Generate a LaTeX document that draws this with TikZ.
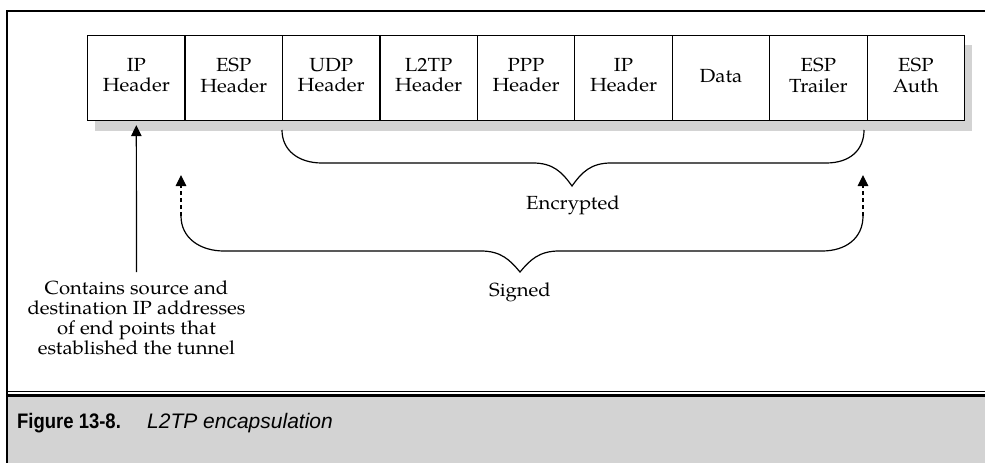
\documentclass[tikz,border=0pt]{standalone}
\usepackage{fontspec}
\setmainfont{TeX Gyre Pagella}[FakeStretch=1.07]
\newfontfamily\capfont{Liberation Sans}
\newfontfamily\capboldfont{Liberation Sans Bold}[FakeStretch=0.88]
\usetikzlibrary{arrows.meta,calc}
\definecolor{panelgray}{RGB}{211,211,211}
\begin{document}
\begin{tikzpicture}[x=1pt,y=-1pt,
  pkt/.style={draw=black,line width=1.2pt,fill=white,minimum width=97.44pt,minimum height=85pt,inner sep=0pt,anchor=north west},
  ptxt/.style={font=\fontsize{19pt}{20.8pt}\selectfont,align=center,inner sep=0pt},
  lbl/.style={font=\fontsize{19pt}{19.8pt}\selectfont,align=center,inner sep=0pt},
  conn/.style={line width=1.2pt},
  tip/.style={-{Triangle[width=10.5pt,length=11pt]}},
  dsh/.style={line width=1.2pt,dash pattern=on 4pt off 3pt},
  captxt/.style={inner sep=0pt,anchor=base west}
]
\useasboundingbox (0,0) rectangle (985,463);
% caption band
\fill[panelgray] (7,397) rectangle (985,463);
% frame
\draw[line width=2.2pt] (7,463) -- (7,11) -- (985,11);
\draw[line width=1.2pt] (7,391.5) -- (985,391.5);
\draw[line width=2.4pt] (7,395.5) -- (985,395.5);
% shadow
\fill[panelgray] (95,45) rectangle (972,131);
% boxes
\node[pkt] (b1) at (87,35) {};
\node[pkt] (b2) at (184.44,35) {};
\node[pkt] (b3) at (281.88,35) {};
\node[pkt] (b4) at (379.32,35) {};
\node[pkt] (b5) at (476.76,35) {};
\node[pkt] (b6) at (574.2,35) {};
\node[pkt] (b7) at (671.64,35) {};
\node[pkt] (b8) at (769.08,35) {};
\node[pkt] (b9) at (866.52,35) {};
\node[ptxt] (t1) at ($(b1.center)+(0,-3)$) {IP\\Header};
\node[ptxt] (t2) at ($(b2.center)+(0,-3)$) {ESP\\Header};
\node[ptxt] (t3) at ($(b3.center)+(0,-3)$) {UDP\\Header};
\node[ptxt] (t4) at ($(b4.center)+(0,-3)$) {L2TP\\Header};
\node[ptxt] (t5) at ($(b5.center)+(0,-3)$) {PPP\\Header};
\node[ptxt] (t6) at ($(b6.center)+(0,-3)$) {IP\\Header};
\node[ptxt] (t7) at ($(b7.center)+(0,-2)$) {Data};
\node[ptxt] (t8) at ($(b8.center)+(0,-3)$) {ESP\\Trailer};
\node[ptxt] (t9) at ($(b9.center)+(0,-3)$) {ESP\\Auth};
% annotation
\node[lbl,anchor=north] (ann) at (136.5,281) {Contains source and\\destination IP addresses\\of end points that\\established the tunnel};
\draw[conn,tip,shorten <=9pt,shorten >=4pt] (ann.north) -- (b1.south);
% encrypted brace
\coordinate (eL) at (282,130);
\coordinate (eR) at (864,130);
\coordinate (eT) at (572,186);
\draw[conn] (eL) .. controls (282,150) and (298,163) .. (322,163) -- (533,163)
  .. controls (553,163) and (562,172) .. (eT)
  .. controls (582,172) and (591,163) .. (611,163) -- (826,163)
  .. controls (850,163) and (864,150) .. (eR);
\node[lbl,anchor=base] (enc) at (573,209) {Encrypted};
% signed brace
\coordinate (sLt) at (181,175);
\coordinate (sL) at (181,216);
\coordinate (sRt) at (863,175);
\coordinate (sR) at (863,216);
\coordinate (sT) at (520,272);
\draw[dsh,tip] (sL) -- (sLt);
\draw[dsh,tip] (sR) -- (sRt);
\draw[conn] (sL) .. controls (181,238) and (200,251) .. (224,251) -- (481,251)
  .. controls (501,251) and (510,260) .. (sT)
  .. controls (530,260) and (539,251) .. (559,251) -- (822,251)
  .. controls (846,251) and (863,238) .. (sR);
\node[lbl,anchor=base] (sig) at (520,296) {Signed};
% caption
\node[captxt,font=\capboldfont\fontsize{21pt}{23pt}\selectfont] (fig) at (17,428) {Figure 13-8.};
\node[captxt,font=\capfont\fontsize{21pt}{23pt}\selectfont\itshape] (cap) at (147,428) {L2TP encapsulation};
\end{tikzpicture}
\end{document}
